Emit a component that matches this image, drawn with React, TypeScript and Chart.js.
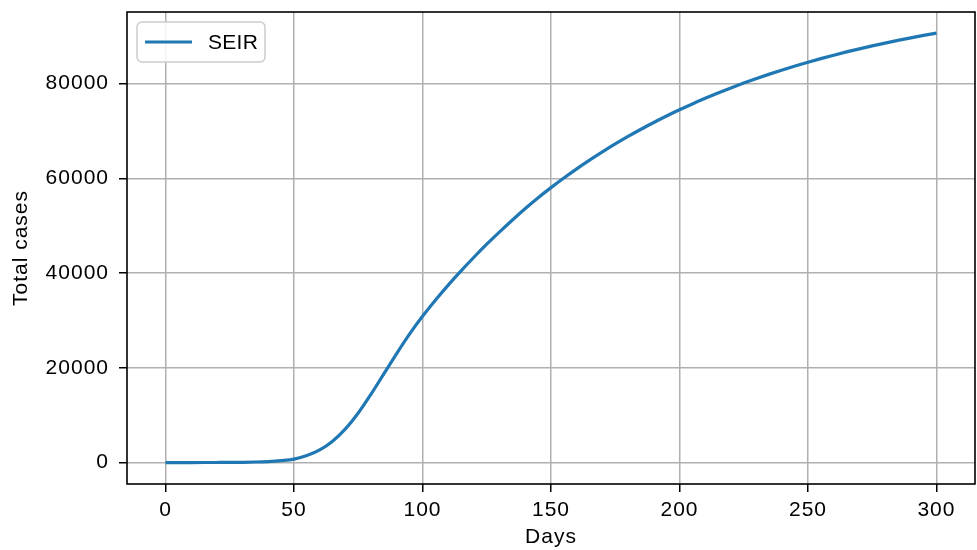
import React, { useEffect, useRef } from "react";
import { Chart, registerables } from "chart.js";

Chart.register(...registerables);

// Cumulative SEIR cases, sampled every 5 days
const days: number[] = [
  0, 5, 10, 15, 20, 25, 30, 35, 40, 45, 50, 55, 60, 65, 70, 75, 80, 85, 90, 95,
  100, 105, 110, 115, 120, 125, 130, 135, 140, 145, 150, 155, 160, 165, 170, 175,
  180, 185, 190, 195, 200, 205, 210, 215, 220, 225, 230, 235, 240, 245, 250, 255,
  260, 265, 270, 275, 280, 285, 290, 295, 300,
];
const totalCases: number[] = [
  0, 1, 3, 7, 14, 28, 55, 110, 210, 400, 720, 1470, 2670, 4520, 7120, 10470,
  14470, 18770, 23070, 27170, 30870, 34270, 37470, 40470, 43350, 46100, 48700,
  51220, 53640, 55920, 58050, 60070, 62000, 63850, 65600, 67270, 68850, 70370,
  71800, 73180, 74480, 75720, 76900, 78030, 79100, 80120, 81090, 82010, 82890,
  83730, 84530, 85290, 86010, 86700, 87350, 87980, 88570, 89140, 89680, 90190,
  90680,
];
const seriesLabel = "SEIR";
const xTicks: number[] = [0, 50, 100, 150, 200, 250, 300];
const yTicks: number[] = [0, 20000, 40000, 60000, 80000];

const FONT = "'Liberation Sans', Arial, Helvetica, sans-serif";
const LINE_BLUE = "#1f77b4";

// Slight tracking on axis text
const trackingPlugin = {
  id: "tracking",
  beforeUpdate(chart: any) {
    chart.ctx.letterSpacing = "1px";
  },
  beforeDraw(chart: any) {
    chart.ctx.letterSpacing = "1px";
  },
};

// Full black frame around the plotting area
const framePlugin = {
  id: "frame",
  afterDatasetsDraw(chart: any) {
    const { ctx, chartArea: a } = chart;
    ctx.save();
    ctx.strokeStyle = "#000";
    ctx.lineWidth = 1.6;
    ctx.strokeRect(a.left, a.top, a.right - a.left, a.bottom - a.top);
    ctx.restore();
  },
};

// Boxed legend in the upper-left corner of the plot
const boxLegendPlugin = {
  id: "boxLegend",
  afterDraw(chart: any) {
    const { ctx, chartArea: a } = chart;
    const ds = chart.data.datasets[0];
    const x = a.left + 10;
    const y = a.top + 10;
    const w = 128;
    const h = 40;
    const r = 5;
    ctx.save();
    ctx.beginPath();
    ctx.moveTo(x + r, y);
    ctx.lineTo(x + w - r, y);
    ctx.arcTo(x + w, y, x + w, y + r, r);
    ctx.lineTo(x + w, y + h - r);
    ctx.arcTo(x + w, y + h, x + w - r, y + h, r);
    ctx.lineTo(x + r, y + h);
    ctx.arcTo(x, y + h, x, y + h - r, r);
    ctx.lineTo(x, y + r);
    ctx.arcTo(x, y, x + r, y, r);
    ctx.closePath();
    ctx.fillStyle = "rgba(255,255,255,0.85)";
    ctx.fill();
    ctx.strokeStyle = "#cccccc";
    ctx.lineWidth = 1.5;
    ctx.stroke();

    const cy = y + h / 2;
    ctx.beginPath();
    ctx.moveTo(x + 8, cy);
    ctx.lineTo(x + 55, cy);
    ctx.strokeStyle = ds.borderColor;
    ctx.lineWidth = 3;
    ctx.stroke();

    ctx.letterSpacing = "0.3px";
    ctx.fillStyle = "#000";
    ctx.font = `21px ${FONT}`;
    ctx.textBaseline = "middle";
    ctx.textAlign = "left";
    ctx.fillText(ds.label, x + 71, cy + 1);
    ctx.restore();
  },
};

export default function App() {
  const canvasRef = useRef<HTMLCanvasElement | null>(null);

  useEffect(() => {
    if (!canvasRef.current) return;
    Chart.defaults.font.family = FONT;
    Chart.defaults.font.size = 21;
    Chart.defaults.color = "#000";

    const chart = new Chart(canvasRef.current, {
      type: "line",
      data: {
        datasets: [
          {
            label: seriesLabel,
            data: days.map((d, i) => ({ x: d, y: totalCases[i] })),
            borderColor: LINE_BLUE,
            backgroundColor: LINE_BLUE,
            borderWidth: 3.2,
            pointRadius: 0,
            cubicInterpolationMode: "monotone",
            fill: false,
          },
        ],
      },
      options: {
        animation: false,
        responsive: false,
        maintainAspectRatio: false,
        layout: { padding: { top: 12, right: 2, left: 0, bottom: 0 } },
        plugins: {
          legend: { display: false },
          tooltip: { enabled: false },
        },
        scales: {
          x: {
            type: "linear",
            min: -15,
            max: 315,
            afterBuildTicks: (scale: any) => {
              scale.ticks = xTicks.map((v) => ({ value: v }));
            },
            afterFit: (scale: any) => {
              scale.height = 66;
              scale.paddingLeft = 0;
              scale.paddingRight = 0;
            },
            ticks: {
              padding: 6,
              maxRotation: 0,
              autoSkip: false,
              callback: (v: any) => String(v),
            },
            grid: {
              color: "#b0b0b0",
              lineWidth: 1.5,
              tickColor: "#000",
              tickLength: 8,
              tickWidth: 1.5,
            },
            border: { display: false },
            title: {
              display: true,
              text: "Days",
              padding: { top: 0, bottom: 0 },
            },
          },
          y: {
            type: "linear",
            min: -4530,
            max: 95130,
            afterBuildTicks: (scale: any) => {
              scale.ticks = yTicks.map((v) => ({ value: v }));
            },
            afterFit: (scale: any) => {
              scale.width = 127;
              scale.paddingTop = 0;
              scale.paddingBottom = 0;
            },
            ticks: {
              padding: 10,
              autoSkip: false,
              callback: (v: any) => String(v),
            },
            grid: {
              color: "#b0b0b0",
              lineWidth: 1.5,
              tickColor: "#000",
              tickLength: 8,
              tickWidth: 1.5,
            },
            border: { display: false },
            title: {
              display: true,
              text: "Total cases",
              padding: { top: 9, bottom: 0 },
            },
          },
        },
      },
      plugins: [trackingPlugin, framePlugin, boxLegendPlugin],
    });
    return () => chart.destroy();
  }, []);

  return (
    <div style={{ position: "fixed", left: 0, top: 0, width: 977, height: 550, background: "#fff" }}>
      <canvas ref={canvasRef} width={977} height={550} />
    </div>
  );
}
